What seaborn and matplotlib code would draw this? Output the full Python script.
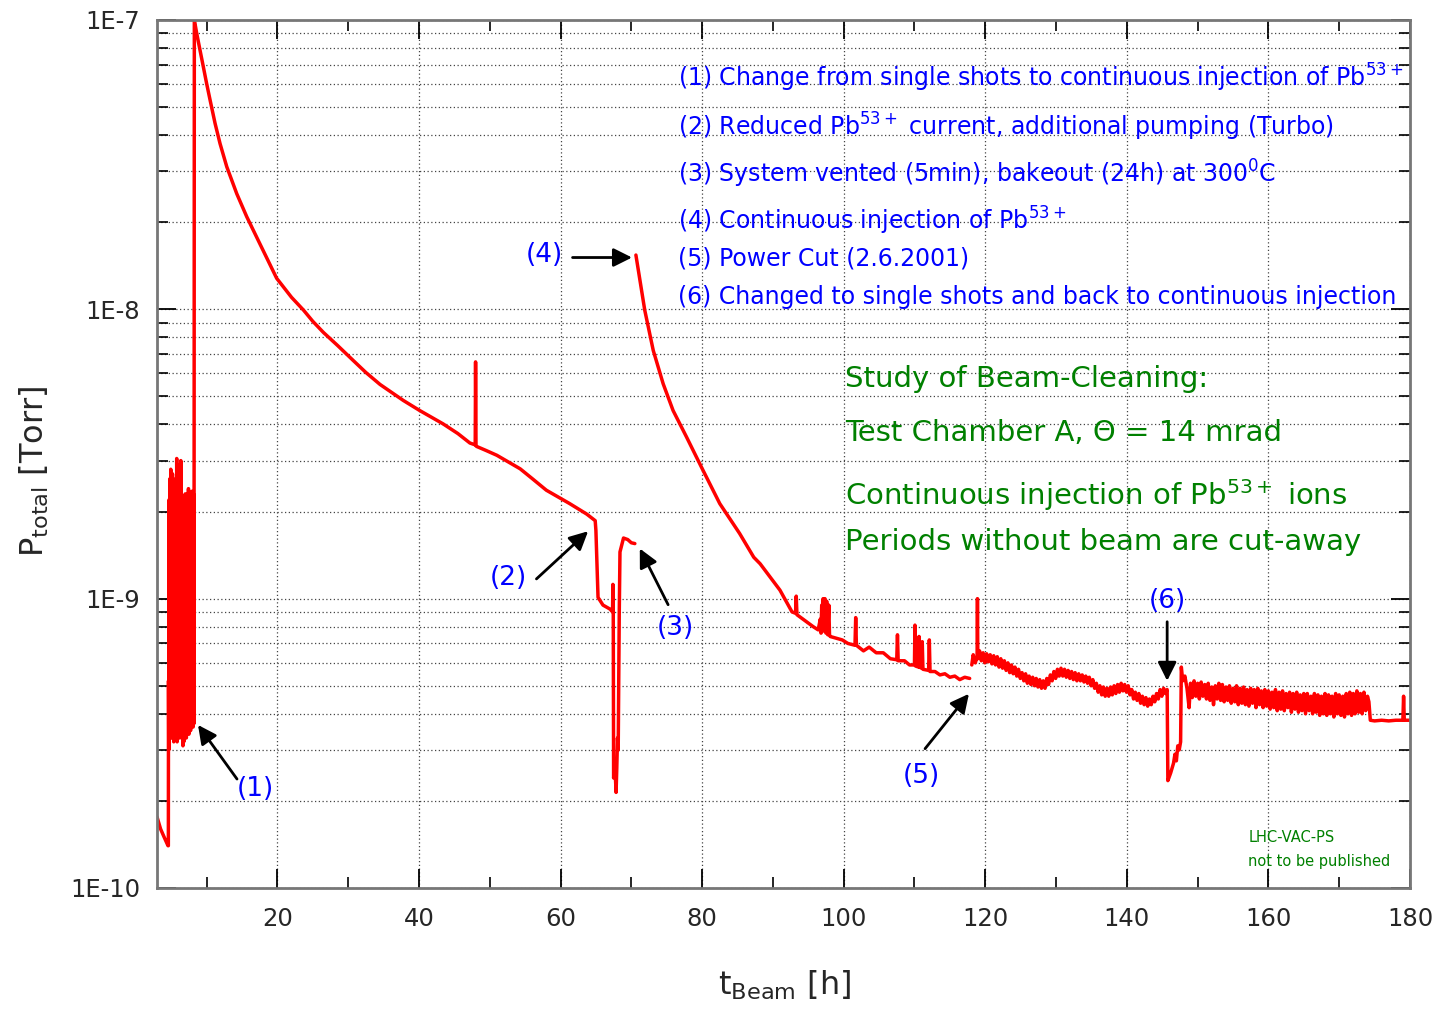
import numpy as np
import pandas as pd
import matplotlib
matplotlib.use("Agg")
import matplotlib.pyplot as plt
import seaborn as sns
from matplotlib.ticker import LogLocator, NullFormatter, MultipleLocator

# ---------------- data ----------------
# segment 1: start, single shots (1), first decay, (2) and (3)
t_seg1 = [3.0, 3.5, 4.0, 4.55,
          4.60, 4.62, 4.66, 4.72, 4.78, 4.84, 4.90, 4.94, 5.00, 5.06,
          5.12, 5.18, 5.24, 5.30, 5.36, 5.42, 5.48, 5.54, 5.60, 5.66,
          5.72, 5.78, 5.84, 5.90, 5.96, 6.02, 6.08, 6.14, 6.20, 6.26,
          6.32, 6.36, 6.42, 6.48, 6.54, 6.60, 6.66, 6.72, 6.78, 6.84,
          6.90, 6.96, 7.02, 7.08, 7.14, 7.20, 7.26, 7.32, 7.38, 7.44,
          7.50, 7.56, 7.62, 7.68, 7.74, 7.80, 7.86, 7.92, 7.98, 8.04,
          8.10, 8.16, 8.22, 8.27,
          8.6, 9.07, 9.54, 10.0, 10.5, 11.2, 11.9, 12.85, 14.26, 15.67,
          17.5, 19.9, 22.0, 23.7, 25.0, 26.5, 28.5, 30.7, 32.5, 34.5,
          37.8, 40.1, 43.4, 45.5, 47.2, 47.95, 48.0, 48.06, 48.12, 49.5,
          51.0, 54.3, 56.0, 58.0, 61.3, 63.7, 64.9,
          65.0, 65.3, 66.0, 67.0, 67.35, 67.4, 67.45, 67.5, 67.7, 67.85,
          67.95, 68.05, 68.15, 68.3, 68.4, 68.9, 69.5, 70.0, 70.5]
p_seg1 = [1.76e-10, 1.6e-10, 1.5e-10, 1.4e-10,
          1.40e-10, 5.2e-10, 3.0e-10, 2.2e-9, 3.4e-10, 2.6e-9, 3.3e-10, 2.8e-9, 3.5e-10, 1.9e-9,
          3.3e-10, 2.7e-9, 3.4e-10, 2.3e-9, 3.2e-10, 2.5e-9, 3.5e-10, 2.1e-9, 3.3e-10, 2.6e-9,
          3.4e-10, 3.05e-9, 3.2e-10, 2.4e-9, 3.5e-10, 2.2e-9, 3.4e-10, 2.9e-9, 3.3e-10, 2.5e-9,
          3.4e-10, 3.0e-9, 3.6e-10, 1.9e-9, 3.5e-10, 2.0e-9, 3.1e-10, 2.2e-9, 3.2e-10, 1.6e-9,
          3.4e-10, 2.3e-9, 3.5e-10, 2.0e-9, 3.3e-10, 2.3e-9, 3.6e-10, 2.1e-9, 3.5e-10, 2.4e-9,
          3.4e-10, 2.2e-9, 3.6e-10, 2.3e-9, 3.5e-10, 2.0e-9, 3.6e-10, 2.35e-9, 3.7e-10, 2.2e-9,
          3.6e-10, 2.3e-9, 3.7e-10, 1.0e-7,
          9.0e-8, 7.87e-8, 6.89e-8, 6.04e-8, 5.28e-8, 4.39e-8, 3.74e-8, 3.11e-8, 2.51e-8, 2.09e-8,
          1.69e-8, 1.28e-8, 1.10e-8, 9.93e-9, 9.09e-9, 8.32e-9, 7.5e-9, 6.66e-9, 6.05e-9, 5.5e-9,
          4.84e-9, 4.47e-9, 4.02e-9, 3.72e-9, 3.45e-9, 3.4e-9, 6.58e-9, 3.38e-9, 3.36e-9, 3.25e-9,
          3.13e-9, 2.81e-9, 2.6e-9, 2.37e-9, 2.13e-9, 1.96e-9, 1.86e-9,
          1.72e-9, 1.01e-9, 9.5e-10, 9.2e-10, 9.0e-10, 1.12e-9, 9.0e-10, 2.4e-10, 2.6e-10, 2.14e-10,
          2.6e-10, 3.3e-10, 3.0e-10, 9.0e-10, 1.45e-9, 1.62e-9, 1.6e-9, 1.56e-9, 1.55e-9]

# segment 2: continuous injection (4) until the power cut (5)
t_seg2 = [70.65, 71.9, 73.1, 74.5, 75.9, 77.8, 79.9, 82.5, 85.3, 87.3,
          88.2, 91.0, 92.7, 93.2, 93.3, 93.4, 95.7, 96.4, 96.7, 96.8,
          96.9, 97.0, 97.1, 97.2, 97.35, 97.5, 97.6, 97.75, 97.9, 98.0,
          98.1, 99.8, 100.6, 101.6, 101.7, 101.8, 102.8, 103.6, 104.6, 105.6,
          106.6, 107.5, 107.6, 107.7, 108.6, 109.3, 110.0, 110.07, 110.15, 110.6,
          110.65, 110.72, 111.0, 111.1, 111.2, 112.0, 112.1, 112.2, 112.9, 113.6,
          114.3, 115.0, 115.7, 116.4, 117.1, 117.8]
p_seg2 = [1.54e-8, 9.93e-9, 7.21e-9, 5.53e-9, 4.47e-9, 3.62e-9, 2.85e-9, 2.13e-9, 1.68e-9, 1.39e-9,
          1.32e-9, 1.07e-9, 9.0e-10, 8.9e-10, 1.02e-9, 8.8e-10, 8.0e-10, 7.8e-10, 8.5e-10, 7.6e-10,
          9.5e-10, 7.7e-10, 1.0e-9, 7.8e-10, 1.0e-9, 7.6e-10, 9.8e-10, 7.5e-10, 9.5e-10, 7.5e-10,
          7.4e-10, 7.2e-10, 7.0e-10, 6.9e-10, 8.6e-10, 6.9e-10, 6.6e-10, 6.8e-10, 6.5e-10, 6.5e-10,
          6.2e-10, 6.15e-10, 7.5e-10, 6.1e-10, 6.1e-10, 5.9e-10, 5.9e-10, 8.1e-10, 5.85e-10, 5.8e-10,
          7.4e-10, 5.8e-10, 5.75e-10, 7.1e-10, 5.7e-10, 5.65e-10, 7.2e-10, 5.6e-10, 5.6e-10, 5.45e-10,
          5.5e-10, 5.35e-10, 5.4e-10, 5.25e-10, 5.35e-10, 5.3e-10]

# segment 3: after the power cut, (6), to the end
t_seg3 = [118.1, 118.3, 118.6, 118.85, 118.9, 118.95,
          119.2, 119.45, 119.7, 119.95, 120.2, 120.45, 120.7, 120.95, 121.2, 121.45,
          121.7, 121.95, 122.2, 122.45, 122.7, 122.95, 123.2, 123.45, 123.7, 123.95,
          124.2, 124.45, 124.7, 124.95, 125.2, 125.45, 125.7, 125.95, 126.2, 126.45,
          126.7, 126.95, 127.2, 127.45, 127.7, 127.95, 128.2, 128.45, 128.7, 128.95,
          129.2, 129.45, 129.7, 129.95, 130.2, 130.45, 130.7, 130.95, 131.2, 131.45,
          131.7, 131.95, 132.2, 132.45, 132.7, 132.95, 133.2, 133.45, 133.7, 133.95,
          134.2, 134.45, 134.7, 134.95, 135.2, 135.45, 135.7, 135.95, 136.2, 136.45,
          136.7, 136.95, 137.2, 137.45, 137.7, 137.95, 138.2, 138.45, 138.7, 138.95,
          139.2, 139.45, 139.7, 139.95, 140.2, 140.45, 140.7, 140.95, 141.2, 141.45,
          141.7, 141.95, 142.2, 142.45, 142.7, 142.95, 143.2, 143.45, 143.7, 143.95,
          144.2, 144.45, 144.7, 144.95, 145.2, 145.45,
          145.7, 145.8, 146.2, 146.6, 146.8, 147.0, 147.2, 147.4, 147.6, 147.7,
          147.9, 148.2, 148.5, 148.8,
          149.0, 149.25, 149.5, 149.75, 150.0, 150.25, 150.5, 150.75, 151.0, 151.25,
          151.5, 151.75, 152.0, 152.25, 152.5, 152.75, 153.0, 153.25, 153.5, 153.75,
          154.0, 154.25, 154.5, 154.75, 155.0, 155.25, 155.5, 155.75, 156.0, 156.25,
          156.5, 156.75, 157.0, 157.25, 157.5, 157.75, 158.0, 158.25, 158.5, 158.75,
          159.0, 159.25, 159.5, 159.75, 160.0, 160.25, 160.5, 160.75, 161.0, 161.25,
          161.5, 161.75, 162.0, 162.25, 162.5, 162.75, 163.0, 163.25, 163.5, 163.75,
          164.0, 164.25, 164.5, 164.75, 165.0, 165.25, 165.5, 165.75, 166.0, 166.25,
          166.5, 166.75, 167.0, 167.25, 167.5, 167.75, 168.0, 168.25, 168.5, 168.75,
          169.0, 169.25, 169.5, 169.75, 170.0, 170.25, 170.5, 170.75, 171.0, 171.25,
          171.5, 171.75, 172.0, 172.25, 172.5, 172.75, 173.0, 173.25, 173.5, 173.75,
          174.0, 174.2, 174.4, 175.0, 176.0, 177.0, 178.0, 179.0, 179.1, 179.2,
          180.0]
p_seg3 = [5.9e-10, 6.4e-10, 6.0e-10, 6.3e-10, 1.0e-9, 6.2e-10,
          6.6e-10, 6.1e-10, 6.5e-10, 6.0e-10, 6.45e-10, 6.05e-10, 6.4e-10, 5.95e-10, 6.35e-10, 5.9e-10,
          6.3e-10, 5.8e-10, 6.2e-10, 5.75e-10, 6.1e-10, 5.65e-10, 6.0e-10, 5.55e-10, 5.9e-10, 5.5e-10,
          5.8e-10, 5.4e-10, 5.7e-10, 5.3e-10, 5.55e-10, 5.2e-10, 5.5e-10, 5.1e-10, 5.4e-10, 5.05e-10,
          5.35e-10, 5.0e-10, 5.3e-10, 4.95e-10, 5.25e-10, 4.9e-10, 5.2e-10, 4.9e-10, 5.3e-10, 5.05e-10,
          5.45e-10, 5.2e-10, 5.6e-10, 5.3e-10, 5.7e-10, 5.4e-10, 5.75e-10, 5.4e-10, 5.7e-10, 5.35e-10,
          5.65e-10, 5.3e-10, 5.6e-10, 5.25e-10, 5.55e-10, 5.2e-10, 5.5e-10, 5.2e-10, 5.45e-10, 5.15e-10,
          5.4e-10, 5.1e-10, 5.35e-10, 5.0e-10, 5.25e-10, 4.9e-10, 5.1e-10, 4.75e-10, 5.0e-10, 4.65e-10,
          4.95e-10, 4.6e-10, 4.9e-10, 4.6e-10, 4.95e-10, 4.65e-10, 5.0e-10, 4.7e-10, 5.05e-10, 4.75e-10,
          5.1e-10, 4.8e-10, 5.05e-10, 4.75e-10, 5.0e-10, 4.65e-10, 4.85e-10, 4.5e-10, 4.75e-10, 4.45e-10,
          4.7e-10, 4.35e-10, 4.6e-10, 4.3e-10, 4.55e-10, 4.25e-10, 4.5e-10, 4.3e-10, 4.6e-10, 4.4e-10,
          4.7e-10, 4.5e-10, 4.85e-10, 4.6e-10, 4.9e-10, 4.7e-10,
          4.85e-10, 2.35e-10, 2.5e-10, 2.7e-10, 2.9e-10, 2.75e-10, 3.1e-10, 3.0e-10, 3.2e-10, 5.8e-10,
          5.2e-10, 5.4e-10, 4.9e-10, 4.2e-10,
          5.1e-10, 4.55e-10, 5.2e-10, 4.6e-10, 5.1e-10, 4.5e-10, 5.15e-10, 4.6e-10, 5.05e-10, 4.5e-10,
          5.1e-10, 4.45e-10, 4.95e-10, 4.3e-10, 5.0e-10, 4.5e-10, 5.1e-10, 4.45e-10, 5.05e-10, 4.4e-10,
          4.95e-10, 4.45e-10, 5.0e-10, 4.35e-10, 4.9e-10, 4.4e-10, 5.0e-10, 4.3e-10, 4.9e-10, 4.35e-10,
          4.95e-10, 4.3e-10, 4.85e-10, 4.25e-10, 4.9e-10, 4.35e-10, 4.85e-10, 4.2e-10, 4.9e-10, 4.3e-10,
          4.8e-10, 4.2e-10, 4.85e-10, 4.25e-10, 4.8e-10, 4.15e-10, 4.75e-10, 4.2e-10, 4.85e-10, 4.1e-10,
          4.75e-10, 4.15e-10, 4.8e-10, 4.1e-10, 4.7e-10, 4.2e-10, 4.75e-10, 4.05e-10, 4.7e-10, 4.15e-10,
          4.75e-10, 4.05e-10, 4.65e-10, 4.1e-10, 4.7e-10, 4.0e-10, 4.7e-10, 4.1e-10, 4.6e-10, 4.0e-10,
          4.7e-10, 4.05e-10, 4.65e-10, 3.95e-10, 4.6e-10, 4.0e-10, 4.7e-10, 3.95e-10, 4.65e-10, 4.0e-10,
          4.6e-10, 3.9e-10, 4.7e-10, 4.0e-10, 4.65e-10, 3.95e-10, 4.6e-10, 3.9e-10, 4.7e-10, 4.0e-10,
          4.75e-10, 3.95e-10, 4.7e-10, 4.0e-10, 4.8e-10, 4.05e-10, 4.7e-10, 4.0e-10, 4.75e-10, 4.1e-10,
          4.6e-10, 4.4e-10, 3.8e-10, 3.78e-10, 3.8e-10, 3.78e-10, 3.8e-10, 3.8e-10, 4.6e-10, 3.8e-10,
          3.8e-10]

y_ticks = [1e-10, 1e-9, 1e-8, 1e-7]
y_tick_labels = ["1E-10", "1E-9", "1E-8", "1E-7"]
x_ticks = [20, 40, 60, 80, 100, 120, 140, 160, 180]

notes_blue = [
    r"(1) Change from single shots to continuous injection of Pb$^{\mathregular{53+}}$",
    r"(2) Reduced Pb$^{\mathregular{53+}}$ current, additional pumping (Turbo)",
    r"(3) System vented (5min), bakeout (24h) at 300$^{\mathregular{0}}$C",
    r"(4) Continuous injection of Pb$^{\mathregular{53+}}$",
    "(5) Power Cut (2.6.2001)",
    "(6) Changed to single shots and back to continuous injection",
]
notes_green = [
    "Study of Beam-Cleaning:",
    "Test Chamber A, \u0398 = 14 mrad",
    r"Continuous injection of Pb$^{\mathregular{53+}}$ ions",
    "Periods without beam are cut-away",
]

# ---------------- build frame ----------------
df = pd.concat([
    pd.DataFrame({"t": t_seg1, "p": p_seg1, "seg": 1}),
    pd.DataFrame({"t": t_seg2, "p": p_seg2, "seg": 2}),
    pd.DataFrame({"t": t_seg3, "p": p_seg3, "seg": 3}),
], ignore_index=True)

sns.set_style("ticks")
plt.rcParams["font.family"] = ["DejaVu Sans"]
plt.rcParams["mathtext.default"] = "regular"

fig = plt.figure(figsize=(14.38, 10.13), dpi=100)
ax = fig.add_axes([0.1092, 0.1234, 0.8713, 0.8569])

sns.lineplot(data=df, x="t", y="p", units="seg", estimator=None, sort=False,
             color="#ff0000", lw=2.5, ax=ax, legend=False)

ax.set_yscale("log")
ax.set_xlim(3, 180)
ax.set_ylim(1e-10, 1e-7)

ax.set_yticks(y_ticks)
ax.set_yticklabels(y_tick_labels)
ax.yaxis.set_minor_locator(LogLocator(base=10, subs=np.arange(2, 10)))
ax.yaxis.set_minor_formatter(NullFormatter())
ax.set_xticks(x_ticks)
ax.set_xticklabels([str(v) for v in x_ticks])
ax.xaxis.set_minor_locator(MultipleLocator(10))

ax.tick_params(axis="both", which="major", direction="in", length=14, width=1.3,
               color="black", labelsize=17.5, top=True, right=True, pad=12)
ax.tick_params(axis="both", which="minor", direction="in", length=8, width=1.2,
               color="black", top=True, right=True)
ax.tick_params(axis="x", which="major", pad=14)

for s in ax.spines.values():
    s.set_color("#777777")
    s.set_linewidth(2)

ax.grid(True, axis="y", which="both", ls=(0, (1, 2)), color="#444444", lw=0.9)
ax.grid(True, axis="x", which="major", ls=(0, (1, 2)), color="#444444", lw=0.9)
ax.set_axisbelow(True)

ax.set_xlabel(r"t$_{\mathregular{Beam}}$ [h]", fontsize=23)
ax.set_ylabel(r"P$_{\mathregular{total}}$ [Torr]", fontsize=23)
ax.xaxis.set_label_coords(0.501, -0.093)
ax.yaxis.set_label_coords(-0.085, 0.48)

# ---------------- annotations ----------------
arrow = dict(arrowstyle="-|>", color="black", lw=2, mutation_scale=28, shrinkA=0, shrinkB=0)
labels = [("(1)", (16.84, 2.2e-10), (14.3, 2.38e-10), (8.79, 3.66e-10)),
          ("(2)", (52.7, 1.18e-9), (56.6, 1.17e-9), (63.9, 1.71e-9)),
          ("(3)", (76.2, 7.94e-10), (75.2, 9.53e-10), (71.2, 1.49e-9)),
          ("(4)", (57.7, 1.54e-8), (61.7, 1.51e-8), (70.1, 1.51e-8)),
          ("(5)", (111.0, 2.44e-10), (111.5, 3.03e-10), (117.7, 4.69e-10)),
          ("(6)", (145.7, 9.84e-10), (145.7, 8.32e-10), (145.7, 5.2e-10))]
for txt, tpos, tail, head in labels:
    ax.text(tpos[0], tpos[1], txt, color="#0000ff", fontsize=19, ha="center", va="center")
    ax.annotate("", xy=head, xytext=tail, arrowprops=arrow)

blue_y = [0.923, 0.867, 0.813, 0.758, 0.717, 0.673]
for s, yy in zip(notes_blue, blue_y):
    ax.text(0.416, yy, s, transform=ax.transAxes, color="#0000ff", fontsize=17,
            ha="left", va="baseline")

green_y = [0.5775, 0.5146, 0.4416, 0.3897]
for s, yy in zip(notes_green, green_y):
    ax.text(0.549, yy, s, transform=ax.transAxes, color="#008000", fontsize=21,
            ha="left", va="baseline")

ax.text(0.871, 0.053, "LHC-VAC-PS", transform=ax.transAxes, color="#008000",
        fontsize=10.5, ha="left", va="baseline")
ax.text(0.871, 0.0253, "not to be published", transform=ax.transAxes, color="#008000",
        fontsize=10.5, ha="left", va="baseline")

fig.savefig("out.png", dpi=100)
